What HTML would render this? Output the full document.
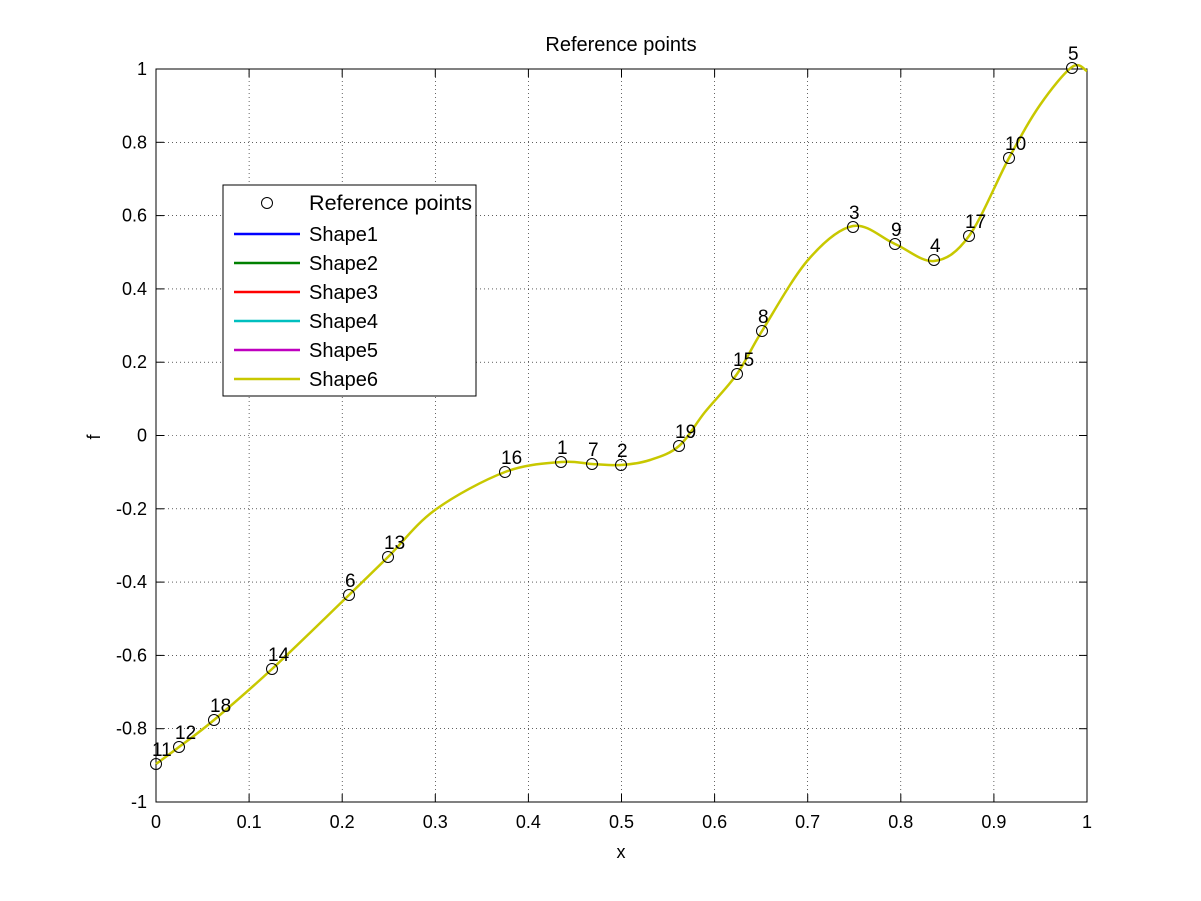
<!DOCTYPE html>
<html><head><meta charset="utf-8"><style>
html,body{margin:0;padding:0;background:#fff;}
svg{display:block;font-family:"Liberation Sans",Arial,sans-serif;}
</style></head><body>
<svg id="s" width="1201" height="901" viewBox="0 0 1201 901" xmlns="http://www.w3.org/2000/svg">
<rect width="1201" height="901" fill="#fff"/>
<g id="grid" stroke="#000" stroke-width="0.6" stroke-dasharray="1,3"></g>
<rect x="156" y="69" width="931" height="733" fill="none" stroke="#000" stroke-width="1"/>
<g id="ticks" stroke="#000" stroke-width="1"></g>
<g id="labels" font-size="18" fill="#000"></g>
<text x="621" y="51" font-size="20" text-anchor="middle">Reference points</text>
<text x="621" y="858" font-size="18" text-anchor="middle">x</text>
<text x="100" y="437" font-size="18" text-anchor="middle" transform="rotate(-90 100 437)">f</text>
<path id="curve" fill="none" stroke="#c8c800" stroke-width="2.5"/>
<g id="pts" fill="none" stroke="#000" stroke-width="1"></g>
<g id="nums" font-size="19" fill="#000"></g>
<g>
<rect x="223" y="185" width="253" height="211" fill="#fff" stroke="#000" stroke-width="1"/>
<circle cx="267" cy="203" r="5.5" fill="none" stroke="#000"/>
<text x="309" y="210" font-size="21" textLength="163" lengthAdjust="spacingAndGlyphs">Reference points</text>
<line x1="234" y1="234" x2="300" y2="234" stroke="#0000ff" stroke-width="2.5"/><text x="309" y="241" font-size="20">Shape1</text>
<line x1="234" y1="263" x2="300" y2="263" stroke="#008000" stroke-width="2.5"/><text x="309" y="270" font-size="20">Shape2</text>
<line x1="234" y1="292" x2="300" y2="292" stroke="#ff0000" stroke-width="2.5"/><text x="309" y="299" font-size="20">Shape3</text>
<line x1="234" y1="321" x2="300" y2="321" stroke="#00bfbf" stroke-width="2.5"/><text x="309" y="328" font-size="20">Shape4</text>
<line x1="234" y1="350" x2="300" y2="350" stroke="#bf00bf" stroke-width="2.5"/><text x="309" y="357" font-size="20">Shape5</text>
<line x1="234" y1="379" x2="300" y2="379" stroke="#c8c800" stroke-width="2.5"/><text x="309" y="386" font-size="20">Shape6</text>
</g>
</svg>
<script>
var NS="http://www.w3.org/2000/svg";
function el(p,t,a,txt){var e=document.createElementNS(NS,t);for(var k in a)e.setAttribute(k,a[k]);if(txt!=null)e.textContent=txt;document.getElementById(p).appendChild(e);}
var X0=156,X1=1087,Y0=802,Y1=69;
for(var i=0;i<=10;i++){var x=X0+(X1-X0)*i/10;
 if(i>0&&i<10)el("grid","line",{x1:x,y1:Y1,x2:x,y2:Y0});
 el("ticks","line",{x1:x,y1:Y0,x2:x,y2:Y0-8});el("ticks","line",{x1:x,y1:Y1,x2:x,y2:Y1+8});
 el("labels","text",{x:x,y:828,"text-anchor":"middle"},i==0?"0":i==10?"1":(i/10).toFixed(1));}
for(var j=0;j<=10;j++){var v=-1+j*0.2,y=Y0-(Y0-Y1)*j/10;
 if(j>0&&j<10)el("grid","line",{x1:X0,y1:y,x2:X1,y2:y});
 el("ticks","line",{x1:X0,y1:y,x2:X0+8,y2:y});el("ticks","line",{x1:X1,y1:y,x2:X1-8,y2:y});
 var s=Math.abs(v)<1e-9?"0":(Math.abs(Math.abs(v)-1)<1e-9?(v<0?"-1":"1"):v.toFixed(1));
 el("labels","text",{x:147,y:y+6,"text-anchor":"end"},s);}
var P=[[156,764],[179,747],[214,720],[272,669],[349,595],[388,557],[435,510],[505,472],[561,462],[592,464],[621,465],[650,460],[679,446],[705,412],[737,374],[762,331],[808,260],[853,226],[895,244],[934,261],[969,236],[1009,158],[1040,105],[1072,67],[1087,71]];
var d="M"+P[0][0]+","+P[0][1];
for(var i=0;i<P.length-1;i++){var p0=P[Math.max(0,i-1)],p1=P[i],p2=P[i+1],p3=P[Math.min(P.length-1,i+2)];
 d+=" C"+(p1[0]+(p2[0]-p0[0])/6)+","+(p1[1]+(p2[1]-p0[1])/6)+" "+(p2[0]-(p3[0]-p1[0])/6)+","+(p2[1]-(p3[1]-p1[1])/6)+" "+p2[0]+","+p2[1];}
document.getElementById("curve").setAttribute("d",d);
var R=[[11,156,764],[12,179,747],[18,214,720],[14,272,669],[6,349,595],[13,388,557],[16,505,472],[1,561,462],[7,592,464],[2,621,465],[19,679,446],[15,737,374],[8,762,331],[3,853,227],[9,895,244],[4,934,260],[17,969,236],[10,1009,158],[5,1072,68]];
R.forEach(function(r){el("pts","circle",{cx:r[1],cy:r[2],r:5.5});el("nums","text",{x:r[1]-4,y:r[2]-8},String(r[0]));});
</script>
</body></html>
